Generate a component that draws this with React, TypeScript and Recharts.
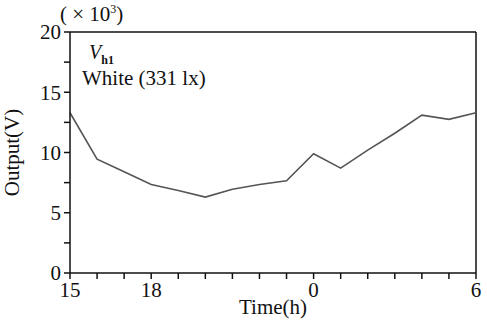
import { LineChart, Line, XAxis, YAxis, ReferenceLine } from 'recharts';

const hours = [15, 16, 17, 18, 19, 20, 21, 22, 23, 24, 25, 26, 27, 28, 29, 30];
const output = [13.3, 9.45, 8.4, 7.35, 6.85, 6.3, 6.95, 7.35, 7.65, 9.9, 8.7, 10.2, 11.6, 13.1, 12.75, 13.3];
const xTicks = [15, 16, 17, 18, 19, 20, 21, 22, 23, 24, 25, 26, 27, 28, 29, 30];
const xLabels: Record<number, string> = { 15: '15', 18: '18', 24: '0', 30: '6' };
const yTicks = [0, 2.5, 5, 7.5, 10, 12.5, 15, 17.5, 20];

const FONT = '"Liberation Serif", "Times New Roman", serif';

export default function App() {
  const data = hours.map((h, i) => ({ h, v: output[i] }));
  const tickStyle = { fontSize: 21, fill: '#111', fontFamily: FONT };

  return (
    <div style={{ position: 'absolute', left: 0, top: 0, width: 487, height: 322, background: '#fff', fontFamily: FONT }}>
      <LineChart width={487} height={322} data={data} margin={{ top: 32, right: 11, bottom: 0, left: 0 }}>
        <XAxis
          dataKey="h"
          type="number"
          domain={[15, 30]}
          ticks={xTicks}
          interval={0}
          height={49}
          tickFormatter={(t: number) => xLabels[t] ?? ''}
          tick={tickStyle}
          tickSize={6}
          tickMargin={3}
          stroke="#111"
          strokeWidth={1.5}
          tickLine={{ stroke: '#111', strokeWidth: 1.5 }}
          label={{ value: 'Time(h)', position: 'insideBottom', offset: 8, style: { fontSize: 21, fill: '#111', fontFamily: FONT } }}
        />
        <YAxis
          type="number"
          domain={[0, 20]}
          ticks={yTicks}
          interval={0}
          width={70}
          tickFormatter={(t: number) => (t % 5 === 0 ? String(t) : '')}
          tick={tickStyle}
          tickSize={6}
          tickMargin={3}
          stroke="#111"
          strokeWidth={1.5}
          tickLine={{ stroke: '#111', strokeWidth: 1.5 }}
          label={{ value: 'Output(V)', angle: -90, position: 'insideLeft', offset: 12, style: { fontSize: 21, fill: '#111', fontFamily: FONT, textAnchor: 'middle' } }}
        />
        <ReferenceLine y={20} stroke="#111" strokeWidth={1.5} />
        <ReferenceLine x={30} stroke="#111" strokeWidth={1.5} />
        <Line type="linear" dataKey="v" stroke="#555" strokeWidth={1.6} dot={false} isAnimationActive={false} />
      </LineChart>
      <div style={{ position: 'absolute', left: 60, top: 3, fontSize: 21, color: '#111', lineHeight: 1 }}>
        ( × 10<sup style={{ fontSize: 12 }}>3</sup>)
      </div>
      <div style={{ position: 'absolute', left: 89, top: 42, fontSize: 20, color: '#111', lineHeight: 1 }}>
        <i>V</i>
        <sub style={{ fontSize: 12, fontWeight: 'bold' }}>h1</sub>
      </div>
      <div style={{ position: 'absolute', left: 82, top: 68, fontSize: 21, color: '#111', lineHeight: 1 }}>
        White (331 lx)
      </div>
    </div>
  );
}
